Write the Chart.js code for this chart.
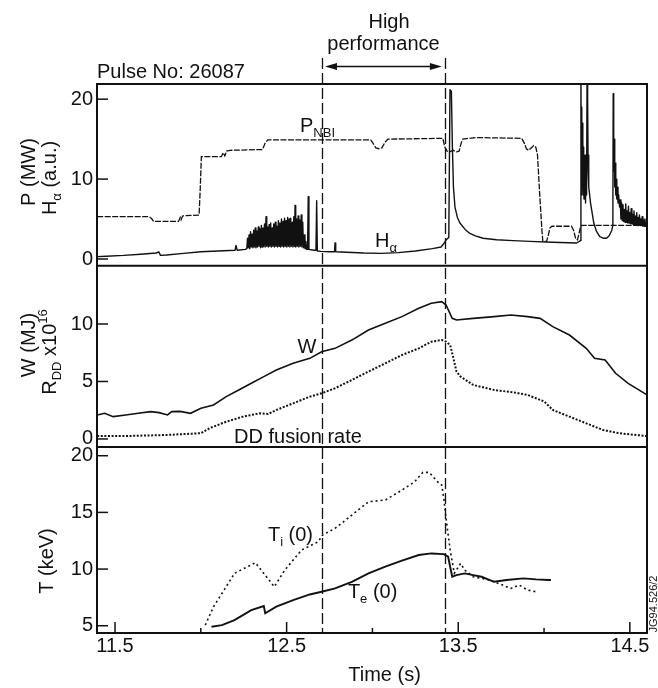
<!DOCTYPE html>
<html>
<head>
<meta charset="utf-8">
<script src="https://cdn.jsdelivr.net/npm/chart.js@4.4.0/dist/chart.umd.min.js"></script>
<style>
  html, body { margin: 0; padding: 0; background: #fff; }
  canvas { display: block; }
</style>
</head>
<body>
<canvas id="c" width="658" height="688"></canvas>
<script>
// DATA (time in s)
const pnbi = [[11.396,5.3],[11.70,5.3],[11.715,5.0],[11.725,4.7],[11.87,4.7],[11.88,5.2],[11.885,4.9],[11.895,5.4],[11.99,5.5],
  [11.997,9],[12.003,12.8],[12.12,12.8],[12.13,13.3],[12.14,12.9],[12.15,13.5],[12.17,13.6],[12.36,13.7],[12.375,14.5],[12.39,14.9],
  [12.99,14.9],[13.003,14.5],[13.02,13.9],[13.038,13.8],[13.055,13.9],[13.073,14.6],[13.09,15.0],[13.41,15.1],[13.422,14.0],
  [13.435,13.5],[13.45,13.4],[13.47,13.6],[13.49,13.4],[13.505,13.5],[13.517,14.5],[13.527,15.0],[13.60,15.2],[13.87,15.1],
  [13.885,14.5],[13.897,13.8],[13.91,13.6],[13.925,13.9],[13.94,14.2],[13.952,14.0],[13.962,13.0],[13.975,8.0],[13.988,3.5],
  [13.993,2.2],[14.015,2.2],[14.025,3.0],[14.035,3.9],[14.046,4.1],[14.16,4.1],[14.172,3.6],[14.185,2.5],[14.195,2.4],
  [14.205,3.3],[14.212,4.0],[14.22,4.2],[14.6,4.2]];

const halpha = [[11.396,0.3],[11.45,0.35],[11.55,0.45],[11.65,0.6],[11.74,0.75],[11.755,0.9],[11.765,0.45],[11.80,0.5],[11.90,0.7],
  [12.00,0.9],[12.10,1.0],[12.20,1.1],[12.205,1.7],[12.212,1.1],[12.26,1.2],
  [12.268,1.3],[12.272,2.6],[12.276,1.4],[12.281,3.0],[12.285,1.3],[12.290,3.4],[12.294,1.5],[12.299,3.1],[12.303,1.4],[12.308,3.6],
  [12.312,1.5],[12.317,3.9],[12.321,1.4],[12.326,3.5],[12.330,1.5],[12.335,4.0],[12.339,1.6],[12.344,3.8],[12.348,1.4],[12.353,4.2],
  [12.357,1.5],[12.362,3.9],[12.366,1.6],[12.371,4.4],[12.375,1.5],[12.380,5.3],[12.384,1.6],[12.389,4.0],[12.393,1.5],[12.398,4.3],
  [12.402,1.6],[12.407,4.5],[12.411,1.5],[12.416,3.9],[12.420,1.6],[12.425,4.4],[12.429,1.5],[12.434,4.6],[12.438,1.6],[12.443,4.1],
  [12.447,1.5],[12.452,4.8],[12.456,1.6],[12.461,4.5],[12.465,1.5],[12.470,5.0],[12.474,1.6],[12.479,4.7],[12.483,1.5],[12.488,5.1],
  [12.492,1.6],[12.497,4.8],[12.501,1.5],[12.506,5.2],[12.510,1.6],[12.515,5.0],[12.519,1.5],[12.524,5.1],[12.528,1.6],[12.533,4.6],
  [12.537,1.5],[12.542,5.3],[12.546,1.6],[12.549,6.7],[12.553,1.5],[12.558,5.0],[12.562,1.6],[12.567,5.4],[12.571,1.5],[12.576,4.9],
  [12.580,1.6],[12.585,5.5],[12.589,1.5],[12.594,4.6],[12.598,1.4],[12.603,3.0],[12.607,1.3],[12.612,2.2],[12.616,1.2],[12.622,1.2],
  [12.626,7.8],[12.630,1.2],[12.66,1.1],[12.671,1.1],[12.675,7.3],[12.679,1.0],
  [12.70,0.95],[12.75,0.9],[12.779,0.9],[12.782,2.0],[12.786,0.9],[12.85,0.85],[12.95,0.75],[13.05,0.7],[13.15,0.8],[13.25,1.0],
  [13.35,1.3],[13.40,1.5],[13.415,1.9],[13.43,2.4],[13.445,2.7],[13.452,21.2],[13.460,21.0],[13.466,14],[13.472,9],[13.481,6.5],
  [13.495,5.2],[13.51,4.5],[13.54,3.7],[13.568,3.2],[13.60,2.9],[13.645,2.6],[13.723,2.4],[13.82,2.3],[13.917,2.2],[14.05,2.1],
  [14.19,2.0],[14.212,2.3],
  [14.215,24],[14.217,10],[14.219,19],[14.221,8],[14.223,17],[14.225,9],[14.227,15],[14.229,8],[14.231,14],[14.233,7.5],
  [14.235,12],[14.237,8],[14.239,13],[14.241,7],[14.243,11],[14.245,8],[14.247,10],[14.249,9],
  [14.251,24],[14.253,14],[14.255,20],[14.257,11],[14.259,13],[14.262,9],[14.266,8],[14.271,7],[14.277,6.2],[14.29,4.5],[14.305,3.5],
  [14.325,2.8],[14.345,2.6],[14.364,2.6],[14.38,2.9],[14.395,3.6],[14.401,4.2],
  [14.403,20.7],[14.406,11],[14.409,15],[14.412,9],[14.415,12],[14.418,8],[14.421,10],[14.424,7.5],[14.427,9],[14.431,7],
  [14.435,8],[14.44,6.5],[14.444,7.4],[14.448,5],[14.452,7.0],[14.456,4.8],[14.46,6.8],[14.464,4.7],[14.468,6.2],[14.472,4.6],
  [14.476,6.9],[14.48,4.6],[14.484,6.0],[14.488,4.5],[14.492,6.6],[14.496,4.5],[14.5,5.8],[14.504,4.4],[14.508,6.3],[14.512,4.4],
  [14.516,5.6],[14.52,4.3],[14.524,6.0],[14.528,4.3],[14.532,5.4],[14.536,4.3],[14.54,5.8],[14.544,4.2],[14.548,5.2],[14.552,4.2],
  [14.556,5.5],[14.56,4.2],[14.564,5.0],[14.568,4.2],[14.572,5.3],[14.576,4.1],[14.58,4.9],[14.584,4.1],[14.588,5.0],[14.592,4.1],
  [14.6,4.6]];

const energy = [[11.396,2.09],[11.44,2.23],[11.489,1.94],[11.562,2.09],[11.635,2.23],[11.708,2.38],[11.757,2.29],[11.806,2.09],
  [11.83,2.38],[11.879,2.4],[11.94,2.23],[12.001,2.67],[12.074,2.96],[12.148,3.68],[12.221,4.26],[12.294,4.84],[12.367,5.42],
  [12.44,6.0],[12.538,6.58],[12.635,7.01],[12.704,7.59],[12.782,7.88],[12.88,8.6],[12.977,9.48],[13.075,10.06],[13.172,10.64],
  [13.27,11.36],[13.343,11.8],[13.404,11.94],[13.429,11.65],[13.465,10.49],[13.49,10.35],[13.587,10.49],[13.709,10.64],
  [13.807,10.78],[13.904,10.64],[13.977,10.49],[14.051,9.77],[14.148,9.04],[14.246,7.88],[14.294,7.01],[14.356,6.87],
  [14.417,5.71],[14.49,4.84],[14.6,3.83]];

const fusionRate = [[11.396,0.25],[11.562,0.25],[11.806,0.35],[12.001,0.5],[12.05,0.93],[12.148,1.5],[12.245,1.94],[12.343,2.23],
  [12.392,2.17],[12.44,2.52],[12.538,3.1],[12.635,3.68],[12.704,3.97],[12.782,4.41],[12.88,5.13],[12.977,5.86],[13.075,6.58],
  [13.172,7.3],[13.27,7.88],[13.343,8.46],[13.404,8.61],[13.429,8.46],[13.453,8.17],[13.465,7.45],[13.49,5.86],[13.514,5.42],
  [13.587,4.7],[13.709,4.26],[13.831,4.03],[13.904,3.83],[14.002,3.25],[14.051,2.52],[14.148,1.94],[14.246,1.36],[14.344,0.78],
  [14.441,0.49],[14.6,0.25]];

const tIon = [[12.026,5.06],[12.074,6.68],[12.148,8.44],[12.196,9.62],[12.233,9.91],[12.318,10.56],[12.367,9.62],[12.428,8.44],
  [12.489,9.91],[12.538,10.79],[12.587,11.68],[12.684,12.41],[12.709,13.0],[12.782,13.59],[12.88,14.76],[12.977,15.94],
  [13.075,16.09],[13.124,16.53],[13.172,16.97],[13.246,17.7],[13.294,18.53],[13.331,18.53],[13.38,17.7],[13.404,17.41],
  [13.416,16.24],[13.429,14.47],[13.453,11.68],[13.477,9.62],[13.514,10.5],[13.538,9.91],[13.587,9.32],[13.684,9.03],
  [13.758,8.59],[13.807,8.29],[13.855,8.59],[13.904,8.15],[13.953,8.0]];

const tElec = [[12.062,4.91],[12.123,5.06],[12.196,5.5],[12.294,6.38],[12.367,6.74],[12.375,6.1],[12.44,6.68],[12.538,7.26],
  [12.635,7.76],[12.704,8.0],[12.782,8.29],[12.88,8.88],[12.977,9.62],[13.075,10.21],[13.172,10.74],[13.27,11.24],[13.343,11.38],
  [13.416,11.32],[13.441,11.09],[13.465,9.32],[13.49,9.47],[13.538,9.62],[13.587,9.47],[13.636,9.32],[13.709,8.88],[13.782,9.03],
  [13.88,9.18],[13.953,9.09],[14.026,9.03],[14.04,9.03]];

const phaseMarks = [12.706, 13.422];   // high performance window
const timeRange = [11.395, 14.6];

const FONT = '"Liberation Sans", Arial, Helvetica, sans-serif';
const INK = '#111';

const pts = arr => arr.map(([x, y]) => ({x, y}));
const isLabelled = v => Math.abs((v * 2) % 2 - 1) < 1e-6;

function partFont(kind, size) {
  return (kind === 'n' ? size : Math.round(size * 0.65)) + 'px ' + FONT;
}
function richWidth(ctx, parts, size) {
  let w = 0;
  for (const [s, k] of parts) { ctx.font = partFont(k, size); w += ctx.measureText(s).width; }
  return w;
}
function drawRich(ctx, parts, x, y, size, align, angle) {
  ctx.save();
  ctx.translate(x, y);
  if (angle) ctx.rotate(angle);
  ctx.textAlign = 'left';
  ctx.textBaseline = 'alphabetic';
  let cx = align === 'center' ? -richWidth(ctx, parts, size) / 2 : 0;
  for (const [s, k] of parts) {
    ctx.font = partFont(k, size);
    const dy = k === 'sub' ? size * 0.25 : k === 'sup' ? -size * 0.45 : 0;
    ctx.fillText(s, cx, dy);
    cx += ctx.measureText(s).width;
  }
  ctx.restore();
}

const deco = {
  id: 'deco',
  afterDatasetsDraw(chart) {
    const {ctx, chartArea: a, scales} = chart;
    const x = scales.x, yP = scales.yP, yW = scales.yW, yT = scales.yT;
    const line = (x1, y1, x2, y2) => { ctx.beginPath(); ctx.moveTo(x1, y1); ctx.lineTo(x2, y2); ctx.stroke(); };
    ctx.save();
    ctx.strokeStyle = INK;
    ctx.fillStyle = INK;

    // dashed markers of the high performance phase
    ctx.lineWidth = 1.3;
    ctx.setLineDash([11, 4]);
    phaseMarks.forEach(t => {
      const px = Math.round(x.getPixelForValue(t)) + 0.5;
      line(px, 58, px, a.bottom);
    });
    ctx.setLineDash([]);

    // frame + panel separators
    ctx.lineWidth = 2;
    ctx.strokeRect(a.left, a.top, a.right - a.left, a.bottom - a.top);
    line(a.left, yW.top, a.right, yW.top);
    line(a.left, yT.top, a.right, yT.top);

    // inward ticks
    ctx.lineWidth = 1.5;
    [yP, yW, yT].forEach(s => s.ticks.forEach(t => {
      const py = s.getPixelForValue(t.value);
      line(a.left, py, a.left + 11, py);
    }));
    x.ticks.forEach(t => {
      const px = x.getPixelForValue(t.value);
      line(px, a.bottom, px, a.bottom - (isLabelled(t.value) ? 11 : 5));
    });

    // arrow
    const x1 = x.getPixelForValue(phaseMarks[0]) + 3, x2 = x.getPixelForValue(phaseMarks[1]) - 3, ay = 66.5;
    line(x1 + 8, ay, x2 - 8, ay);
    ctx.beginPath(); ctx.moveTo(x1, ay); ctx.lineTo(x1 + 12, ay - 3.5); ctx.lineTo(x1 + 12, ay + 3.5); ctx.closePath(); ctx.fill();
    ctx.beginPath(); ctx.moveTo(x2, ay); ctx.lineTo(x2 - 12, ay - 3.5); ctx.lineTo(x2 - 12, ay + 3.5); ctx.closePath(); ctx.fill();

    // texts above the plot
    drawRich(ctx, [['High', 'n']], 389, 28, 20, 'center');
    drawRich(ctx, [['performance', 'n']], 383.5, 50, 20, 'center');
    drawRich(ctx, [['Pulse No: 26087', 'n']], a.left, 78, 20, 'left');

    // curve labels
    drawRich(ctx, [['P', 'n'], ['NBI', 'sub']], x.getPixelForValue(12.578), yP.getPixelForValue(15.9), 20, 'left');
    drawRich(ctx, [['H', 'n'], ['\u03B1', 'sub']], x.getPixelForValue(13.015), yP.getPixelForValue(1.5), 20, 'left');
    drawRich(ctx, [['W', 'n']], x.getPixelForValue(12.618), yW.getPixelForValue(7.48), 20, 'center');
    drawRich(ctx, [['DD fusion rate', 'n']], x.getPixelForValue(12.566), yW.getPixelForValue(-0.35), 20, 'center');
    drawRich(ctx, [['T', 'n'], ['i', 'sub'], [' (0)', 'n']], x.getPixelForValue(12.391), yT.getPixelForValue(12.5), 20, 'left');
    drawRich(ctx, [['T', 'n'], ['e', 'sub'], [' (0)', 'n']], x.getPixelForValue(12.857), yT.getPixelForValue(7.44), 20, 'left');

    // axis titles
    const up = -Math.PI / 2;
    drawRich(ctx, [['P (MW)', 'n']], 35, 172, 20, 'center', up);
    drawRich(ctx, [['H', 'n'], ['\u03B1', 'sub'], [' (a.u.)', 'n']], 56, 178, 20, 'center', up);
    drawRich(ctx, [['W (MJ)', 'n']], 35, 345, 20, 'center', up);
    drawRich(ctx, [['R', 'n'], ['DD', 'sub'], [' x10', 'n'], ['16', 'sup']], 56, 352, 20, 'center', up);
    drawRich(ctx, [['T (keV)', 'n']], 53, 561, 20, 'center', up);
    drawRich(ctx, [['Time (s)', 'n']], 384.5, 681, 20, 'center');
    drawRich(ctx, [['JG94.526/2', 'n']], 657, 604, 11, 'center', up);
    ctx.restore();
  }
};

const yCommon = {
  type: 'linear',
  position: 'left',
  stack: 'panels',
  grid: { display: false, drawTicks: false },
  border: { display: false },
  ticks: { font: { family: FONT, size: 20 }, color: INK, padding: 4, includeBounds: false },
  afterFit: s => { s.width = 97; }
};

new Chart(document.getElementById('c'), {
  type: 'line',
  data: {
    datasets: [
      { data: pts(pnbi), yAxisID: 'yP', borderColor: INK, borderWidth: 1.3, borderDash: [6, 1.5] },
      { data: pts(halpha), yAxisID: 'yP', borderColor: INK, borderWidth: 1.4, borderJoinStyle: 'round' },
      { data: pts(energy), yAxisID: 'yW', borderColor: INK, borderWidth: 1.6 },
      { data: pts(fusionRate), yAxisID: 'yW', borderColor: INK, borderWidth: 2, borderDash: [2, 1.6] },
      { data: pts(tIon), yAxisID: 'yT', borderColor: INK, borderWidth: 1.6, borderDash: [2, 3] },
      { data: pts(tElec), yAxisID: 'yT', borderColor: INK, borderWidth: 1.9 }
    ]
  },
  options: {
    responsive: false,
    devicePixelRatio: 1,
    animation: false,
    events: [],
    layout: { padding: { top: 84, right: 11, bottom: 0, left: 0 } },
    elements: { point: { radius: 0 }, line: { tension: 0, fill: false } },
    plugins: { legend: { display: false }, tooltip: { enabled: false } },
    scales: {
      x: {
        type: 'linear', min: timeRange[0], max: timeRange[1],
        grid: { display: false, drawTicks: false },
        border: { display: false },
        ticks: {
          stepSize: 0.5, includeBounds: false, autoSkip: false, maxRotation: 0, padding: 1,
          font: { family: FONT, size: 20 }, color: INK,
          callback: v => isLabelled(v) ? v.toFixed(1) : ''
        },
        afterFit: s => { s.height = 55; }
      },
      yT: Object.assign({}, yCommon, { stackWeight: 186, min: 4.36, max: 20.77, ticks: Object.assign({}, yCommon.ticks, { stepSize: 5 }) }),
      yW: Object.assign({}, yCommon, {
        stackWeight: 181.3, min: -0.7, max: 15.07, ticks: Object.assign({}, yCommon.ticks, { stepSize: 5 }),
        afterBuildTicks: s => { s.ticks = s.ticks.filter(t => t.value <= 10); }
      }),
      yP: Object.assign({}, yCommon, { stackWeight: 181.7, min: -0.84, max: 21.9, ticks: Object.assign({}, yCommon.ticks, { stepSize: 10 }) })
    }
  },
  plugins: [deco]
});
</script>
</body>
</html>
